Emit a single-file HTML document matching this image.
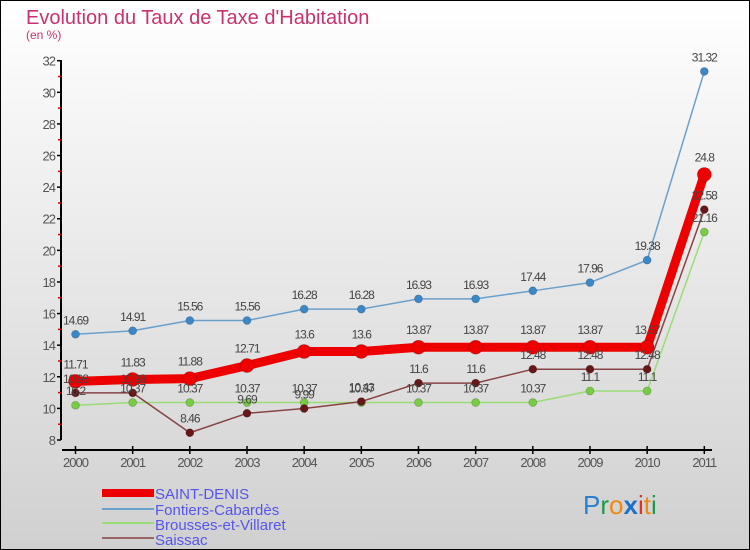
<!DOCTYPE html>
<html><head><meta charset="utf-8">
<style>
html,body{margin:0;padding:0}
body{width:750px;height:550px;overflow:hidden;font-family:"Liberation Sans",sans-serif}
#wrap{position:absolute;left:0;top:0;width:748px;height:548px;border:1px solid #000;background:linear-gradient(#ffffff,#d0d0d0)}
</style></head>
<body>
<div id="wrap">
<svg id="chart" width="750" height="550" style="position:absolute;left:-1px;top:-1px">
<text x="26" y="24" font-size="20" fill="#c8326e">Evolution du Taux de Taxe d'Habitation</text>
<text x="26" y="39" font-size="12" fill="#c8326e">(en %)</text>
<g id="axes"></g>
<g id="series"></g>
<g id="labels"></g>
<g id="legend" font-size="15" fill="#5555ee">
<rect x="102" y="489" width="52" height="8" fill="#ee0000"/>
<text x="155" y="499">SAINT-DENIS</text>
<rect x="102" y="508" width="52" height="2" fill="#6aa0cc"/>
<text x="155" y="515">Fontiers-Cabardès</text>
<rect x="102" y="522" width="52" height="2" fill="#99dd77"/>
<text x="155" y="530">Brousses-et-Villaret</text>
<rect x="102" y="537" width="52" height="2" fill="#996666"/>
<text x="155" y="545">Saissac</text>
</g>
<text x="583" y="514" font-size="26"><tspan fill="#2a7fd0">P</tspan><tspan fill="#1a9a4a">r</tspan><tspan fill="#f08a10">o</tspan><tspan fill="#1a70d0" font-weight="bold">x</tspan><tspan fill="#e03020">i</tspan><tspan fill="#f08a10">t</tspan><tspan fill="#1a9a4a">i</tspan></text>
</svg>
</div>
<script>
const years = ["2000","2001","2002","2003","2004","2005","2006","2007","2008","2009","2010","2011"];
const saintDenis = [11.71,11.83,11.88,12.71,13.6,13.6,13.87,13.87,13.87,13.87,13.87,24.8];
const fontiers = [14.69,14.91,15.56,15.56,16.28,16.28,16.93,16.93,17.44,17.96,19.38,31.32];
const brousses = [10.2,10.37,10.37,10.37,10.37,10.37,10.37,10.37,10.37,11.1,11.1,21.16];
const saissac = [10.98,10.98,8.46,9.69,9.99,10.43,11.6,11.6,12.48,12.48,12.48,22.58];
const yTicks = [8,10,12,14,16,18,20,22,24,26,28,30,32];

const NS="http://www.w3.org/2000/svg";
function X(i){return 75.5+i*(704.3-75.5)/(years.length-1);}
function Y(v){return 440-(v-8)*(440-60.7)/24;}
function mk(tag,attrs,parent){const e=document.createElementNS(NS,tag);for(const k in attrs)e.setAttribute(k,attrs[k]);parent.appendChild(e);return e;}
const axes=document.getElementById('axes');
let ya=mk('line',{x1:61,y1:60,x2:61,y2:440,stroke:'#000','stroke-width':2},axes);


yTicks.forEach(t=>{
  const y=Y(t);
  mk('line',{x1:57,y1:y,x2:61,y2:y,stroke:'#000','stroke-width':1.5},axes);
  if(t<32){mk('line',{x1:58,y1:Y(t+1),x2:61,y2:Y(t+1),stroke:'#dd0000','stroke-width':1.5},axes);}
  const tx=mk('text',{x:55,y:y+5,'font-size':13,fill:'#555','text-anchor':'end','letter-spacing':'-1'},axes);
  tx.textContent=t;
  
  
});
let xa=mk('line',{x1:62,y1:450,x2:712,y2:450,stroke:'#000','stroke-width':2},axes);


years.forEach((yr,i)=>{
  const x=X(i);
  mk('line',{x1:x,y1:446,x2:x,y2:454,stroke:'#000','stroke-width':1.5},axes);
  const tx=mk('text',{x:x,y:467,'font-size':13,fill:'#555','text-anchor':'middle','letter-spacing':'-1'},axes);
  tx.textContent=yr;
  
  
});
const ser=document.getElementById('series'),lab=document.getElementById('labels');
function draw(vals,color,dot,w,r,name){
  const g=mk('g',{},ser);
  
  
  const pts=vals.map((v,i)=>X(i)+','+Y(v)).join(' ');
  mk('polyline',{points:pts,fill:'none',stroke:color,'stroke-width':w,'stroke-linejoin':'round'},g);
  vals.forEach((v,i)=>{
    const c=mk('circle',{cx:X(i),cy:Y(v),r:r,fill:dot,stroke:'rgba(0,0,0,0.2)','stroke-width':0.8},g);
    
    
    const t=mk('text',{x:X(i),y:Y(v)-r-6,'font-size':12,fill:'#444','text-anchor':'middle','letter-spacing':'-1'},lab);
    t.textContent=String(v);
    
    
  });
}
draw(brousses,'#99dd77','#77cc44',1.5,4,'brousses');
draw(saissac,'#884444','#661818',1.5,4,'saissac');
draw(fontiers,'#6aa0cc','#3a88c8',1.5,4,'fontiers');
draw(saintDenis,'#ee0000','#ee0000',9,7,'saint-denis');
</script>
</body></html>
